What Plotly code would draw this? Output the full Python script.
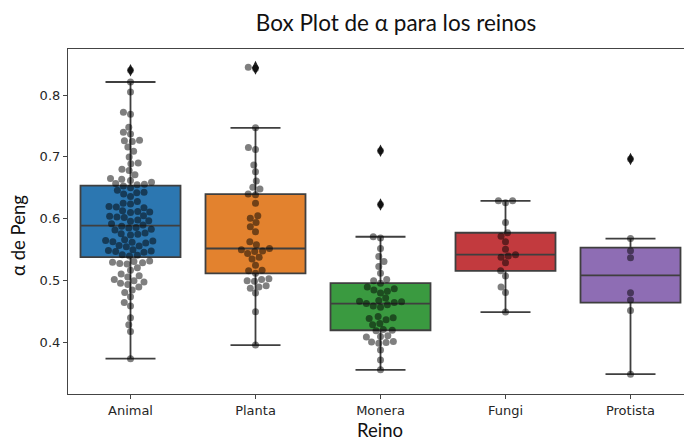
import numpy as np
import plotly.graph_objects as go

# --- datos: α de Peng por reino ---
reinos = ["Animal", "Planta", "Monera", "Fungi", "Protista"]
colores = ["#2c77b1", "#e3822e", "#3a9a40", "#c23a3e", "#8e6db4"]

alfa_animal = [
    0.840, 0.821, 0.805, 0.772, 0.769, 0.748, 0.740, 0.737, 0.727, 0.726,
    0.725, 0.716, 0.709, 0.700, 0.690, 0.689, 0.680, 0.678, 0.671, 0.665,
    0.664, 0.662, 0.659, 0.657, 0.656, 0.655,
    0.653, 0.650, 0.646, 0.643, 0.642, 0.640, 0.636, 0.628, 0.625, 0.624,
    0.620, 0.619, 0.618, 0.613, 0.612, 0.611, 0.610, 0.605, 0.604, 0.603,
    0.602, 0.598, 0.597, 0.596, 0.592, 0.590,
    0.588, 0.586, 0.585, 0.583, 0.582, 0.577, 0.576, 0.575, 0.574, 0.566,
    0.565, 0.564, 0.563, 0.562, 0.561, 0.557, 0.556, 0.555, 0.550, 0.549,
    0.548, 0.547, 0.546, 0.542, 0.541, 0.540,
    0.532, 0.531, 0.530, 0.529, 0.528, 0.527, 0.521, 0.517, 0.511, 0.508,
    0.506, 0.502, 0.500, 0.498, 0.496, 0.494, 0.490, 0.485, 0.481, 0.474,
    0.465, 0.459, 0.440, 0.429, 0.418, 0.374,
]
alfa_planta = [
    0.845, 0.843, 0.747, 0.715, 0.712, 0.687, 0.676, 0.661, 0.651, 0.648,
    0.640, 0.639, 0.625, 0.605, 0.601, 0.594, 0.587, 0.579, 0.563, 0.558,
    0.552, 0.550, 0.548, 0.547, 0.544, 0.538, 0.535, 0.525, 0.517, 0.516,
    0.512, 0.503, 0.502, 0.500, 0.499, 0.492, 0.490, 0.488, 0.480, 0.450,
    0.396,
]
alfa_monera = [
    0.710, 0.623, 0.571, 0.569, 0.552, 0.539, 0.531, 0.523, 0.512, 0.502,
    0.500, 0.496, 0.490, 0.487, 0.485, 0.483, 0.480, 0.472, 0.468, 0.467,
    0.466, 0.465, 0.463, 0.461, 0.459, 0.457, 0.442, 0.440, 0.439, 0.437,
    0.431, 0.429, 0.421, 0.420, 0.419, 0.411, 0.410, 0.409, 0.402, 0.401,
    0.400, 0.399, 0.388, 0.372, 0.356,
]
alfa_fungi = [
    0.629, 0.629, 0.626, 0.594, 0.5775, 0.572, 0.563, 0.551, 0.542, 0.540,
    0.538, 0.529, 0.516, 0.5075, 0.490, 0.481, 0.4494,
]
alfa_protista = [0.6966, 0.568, 0.5484, 0.537, 0.4804, 0.4687, 0.452, 0.349]

valores = [alfa_animal, alfa_planta, alfa_monera, alfa_fungi, alfa_protista]

# escala en pixeles usada para acomodar el enjambre sin solapes
PX_X = 125.0
PX_Y = 619.0
DOT = 7.0


def enjambre(vals):
    v = np.asarray(vals, float)
    orden = np.argsort(v, kind="stable")
    ys = v[orden] * PX_Y
    xs = np.zeros(len(v))
    colocados = []
    for k, y in enumerate(ys):
        vecinos = [(px, py) for px, py in colocados if abs(y - py) < DOT]
        cands = [0.0]
        for px, py in vecinos:
            dx = np.sqrt(max(DOT ** 2 - (y - py) ** 2, 0.0)) * 1.05
            cands += [px - dx, px + dx]
        cands.sort(key=abs)
        for c in cands:
            if all((c - px) ** 2 + (y - py) ** 2 >= DOT ** 2 * 0.999
                   for px, py in vecinos):
                xs[k] = c
                break
        colocados.append((xs[k], y))
    out = np.zeros(len(v))
    out[orden] = xs / PX_X
    return out


fig = go.Figure()

sx, sy, ox, oy = [], [], [], []
for i, (nombre, vals, col) in enumerate(zip(reinos, valores, colores)):
    v = np.asarray(vals, float)
    q1, med, q3 = np.percentile(v, [25, 50, 75])
    iqr = q3 - q1
    dentro = v[(v >= q1 - 1.5 * iqr) & (v <= q3 + 1.5 * iqr)]
    lo, hi = dentro.min(), dentro.max()
    fuera = v[(v < lo) | (v > hi)]
    fig.add_trace(go.Box(
        x=[i], q1=[q1], median=[med], q3=[q3],
        lowerfence=[lo], upperfence=[hi],
        width=0.8, whiskerwidth=0.5,
        fillcolor=col, line=dict(color="#3f3f3f", width=1.8),
        boxpoints=False, hoverinfo="skip", showlegend=False, name=nombre,
    ))
    ox += [i] * len(fuera)
    oy += list(fuera)
    sx += list(i + enjambre(v))
    sy += list(v)

fig.add_trace(go.Scatter(
    x=ox, y=oy, mode="markers", showlegend=False, hoverinfo="skip",
    marker=dict(symbol="diamond-tall", size=9, color="#222222", line_width=0),
))
fig.add_trace(go.Scatter(
    x=sx, y=sy, mode="markers", showlegend=False,
    marker=dict(size=7, color="rgba(0,0,0,0.5)", line_width=0),
))

eje = dict(showline=True, linecolor="#444444", linewidth=1.2, ticks="outside",
           ticklen=4, tickcolor="#444444", showgrid=False, zeroline=False,
           tickfont=dict(family="DejaVu Sans", size=13, color="#262626"))

fig.update_layout(
    width=684, height=440,
    margin=dict(l=68, r=0, t=49, b=46, pad=0, autoexpand=False),
    paper_bgcolor="white", plot_bgcolor="white",
    title=dict(text="Box Plot de α para los reinos", x=396 / 684, xanchor="center",
               y=1 - 23 / 440, yanchor="middle", yref="container",
               font=dict(family="Lato", size=22.5, color="#111111")),
    xaxis=dict(eje, range=[-0.5, 4.428], tickvals=list(range(len(reinos))),
               ticktext=reinos, mirror=True),
    yaxis=dict(eje, range=[0.3170, 0.8743], tickvals=[0.4, 0.5, 0.6, 0.7, 0.8],
               ticktext=["0.4", "0.5", "0.6", "0.7", "0.8"]),
    annotations=[
        dict(text="α de Peng", xref="paper", yref="paper",
             x=(18 - 68) / 616, y=(394 - 236) / 345, textangle=-90,
             xanchor="center", yanchor="middle", showarrow=False,
             font=dict(family="Lato", size=18.5, color="#111111")),
        dict(text="Reino", xref="paper", yref="paper",
             x=(380 - 68) / 616, y=(394 - 430) / 345,
             xanchor="center", yanchor="middle", showarrow=False,
             font=dict(family="Lato", size=18.5, color="#111111")),
    ],
)

fig.write_html("out.html")
